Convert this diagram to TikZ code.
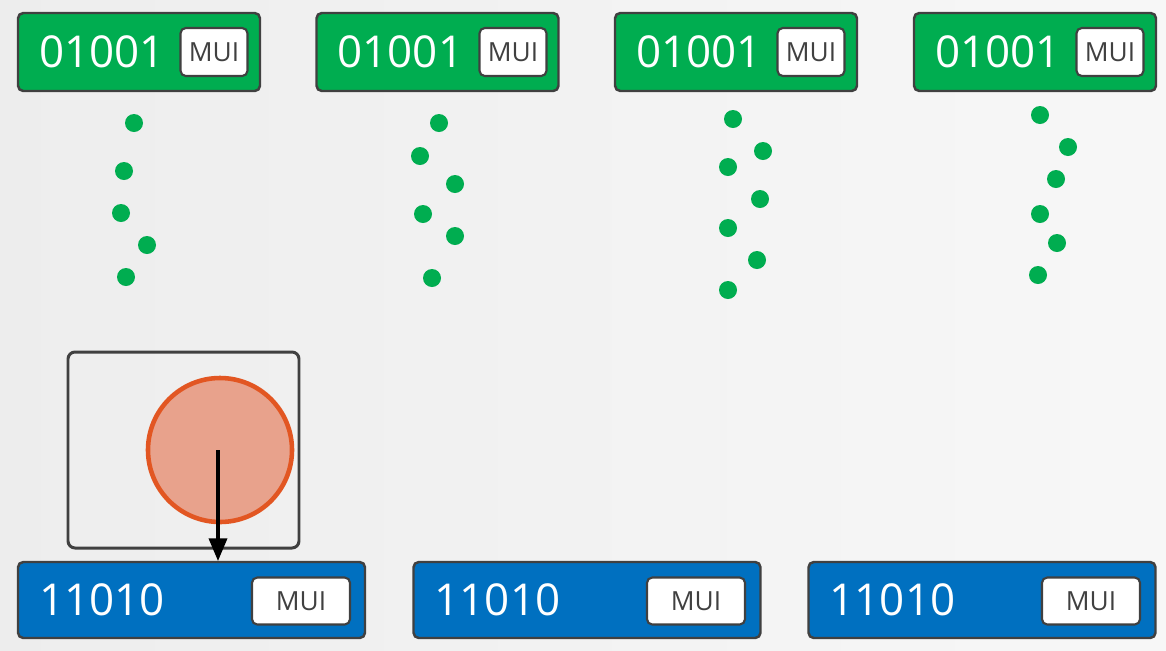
\documentclass[tikz,border=0pt]{standalone}
\usepackage{fontspec}
\setsansfont{Open Sans}
\usepackage{tikz}
\definecolor{bingreen}{RGB}{0,173,80}
\definecolor{binblue}{RGB}{0,112,192}
\definecolor{rim}{RGB}{64,64,64}
\definecolor{faultfill}{RGB}{232,162,140}
\definecolor{faultline}{RGB}{226,86,34}
\usetikzlibrary{positioning,arrows}
\newcommand*{\px}{0.02cm}
\tikzset{%
  bin/.style={draw=rim, line width=1.4pt, rectangle, rounded corners=3pt},
  greenbin/.style={bin, fill=bingreen, minimum width=242*\px, minimum height=78*\px},% upper register
  bluebin/.style={bin, fill=binblue, minimum width=347*\px, minimum height=76*\px},% lower register
  bits/.style={anchor=west, inner sep=0pt, text=white, font=\sffamily\fontsize{25}{25}\selectfont},
  mui/.style={draw=rim, line width=1.2pt, fill=white, rectangle, rounded corners=3pt,
    inner sep=0pt, font=\sffamily\fontsize{15}{15}\selectfont, text=rim},
  dot/.style={circle, fill=bingreen, inner sep=0pt, minimum size=18*\px}
}

\begin{document}
\begin{tikzpicture}[x=0.02cm, y=-0.02cm]
\fill[left color=gray!14, right color=gray!6] (0,0) rectangle (1166,650);
\useasboundingbox (0,0) rectangle (1166,650);

% upper registers
\node[greenbin] (top1) at (139,52) {};
\node[greenbin] (top2) at (437.5,52) {};
\node[greenbin] (top3) at (736,52) {};
\node[greenbin] (top4) at (1035,52) {};
\node[bits] (tb1) at ([xshift=22*\px]top1.west) {01001};
\node[bits] (tb2) at ([xshift=22*\px]top2.west) {01001};
\node[bits] (tb3) at ([xshift=22*\px]top3.west) {01001};
\node[bits] (tb4) at ([xshift=22*\px]top4.west) {01001};
\node[mui, minimum width=67*\px, minimum height=48*\px] (tm1) at (214,52) {MUI};
\node[mui, minimum width=67*\px, minimum height=48*\px] (tm2) at (513,52) {MUI};
\node[mui, minimum width=67*\px, minimum height=48*\px] (tm3) at (811,52) {MUI};
\node[mui, minimum width=67*\px, minimum height=48*\px] (tm4) at (1110,52) {MUI};

% falling bits
\node[dot] (d11) at (134,123) {};
\node[dot] (d12) at (124,171) {};
\node[dot] (d13) at (121,213) {};
\node[dot] (d14) at (147,245) {};
\node[dot] (d15) at (126,277) {};

\node[dot] (d21) at (439,123) {};
\node[dot] (d22) at (420,156) {};
\node[dot] (d23) at (455,184) {};
\node[dot] (d24) at (423,214) {};
\node[dot] (d25) at (455,236) {};
\node[dot] (d26) at (432,278) {};

\node[dot] (d31) at (733,119) {};
\node[dot] (d32) at (763,151) {};
\node[dot] (d33) at (728,167) {};
\node[dot] (d34) at (760,199) {};
\node[dot] (d35) at (728,228) {};
\node[dot] (d36) at (757,260) {};
\node[dot] (d37) at (728,290) {};

\node[dot] (d41) at (1040,115) {};
\node[dot] (d42) at (1068,147) {};
\node[dot] (d43) at (1056,179) {};
\node[dot] (d44) at (1040,214) {};
\node[dot] (d45) at (1057,243) {};
\node[dot] (d46) at (1038,275) {};

% fault window
\node[draw=rim, line width=1.7pt, rounded corners=4pt, minimum width=231*\px, minimum height=196*\px] (window) at (183.5,450) {};
\node[circle, draw=faultline, fill=faultfill, line width=2.6pt, minimum size=144*\px, inner sep=0pt] (fault) at (220,450) {};

% lower registers
\node[bluebin] (bot1) at (191.5,600) {};
\node[bluebin] (bot2) at (587,600) {};
\node[bluebin] (bot3) at (982,600) {};
\node[bits] (bb1) at ([xshift=22*\px]bot1.west) {11010};
\node[bits] (bb2) at ([xshift=22*\px]bot2.west) {11010};
\node[bits] (bb3) at ([xshift=22*\px]bot3.west) {11010};
\node[mui, minimum width=98*\px, minimum height=47*\px] (bm1) at (301,601) {MUI};
\node[mui, minimum width=98*\px, minimum height=47*\px] (bm2) at (696,601) {MUI};
\node[mui, minimum width=98*\px, minimum height=47*\px] (bm3) at (1091,601) {MUI};

\draw[line width=2pt, -triangle 45] ([xshift=-2*\px]fault.center) -- ([xshift=-2*\px]fault.center |- bot1.north);
\end{tikzpicture}
\end{document}
